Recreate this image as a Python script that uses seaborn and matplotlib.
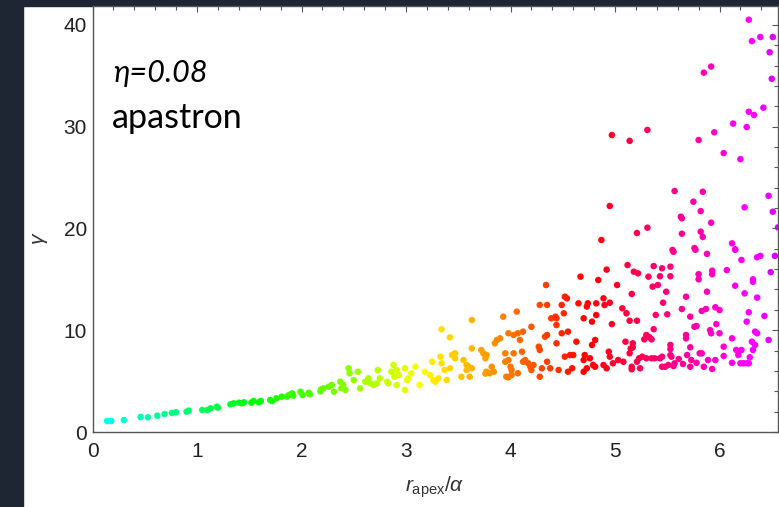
import numpy as np
import pandas as pd
import matplotlib
matplotlib.use("Agg")
import matplotlib.pyplot as plt
import seaborn as sns
from matplotlib.colors import ListedColormap, hsv_to_rgb
from matplotlib.patches import Rectangle
from matplotlib.ticker import MultipleLocator

# ---- data ----
r_apex = [
    0.14, 0.18, 0.30, 0.46, 0.53, 0.62, 0.69, 0.76, 0.80, 0.90, 0.92, 1.05, 1.10, 1.13, 1.19, 1.20,
    1.32, 1.35, 1.40, 1.43, 1.45, 1.52, 1.54, 1.59, 1.61, 1.70, 1.72, 1.76, 1.81, 1.86, 1.88, 1.91,
    1.92, 1.99, 2.01, 2.07, 2.08, 2.18,
    2.19, 2.21, 2.26, 2.29, 2.31, 2.37, 2.38, 2.40, 2.42, 2.45, 2.46, 2.50, 2.54, 2.56, 2.61, 2.64,
    2.66, 2.69, 2.72, 2.73, 2.75, 2.82, 2.83, 2.86, 2.89, 2.91, 2.93, 2.91, 2.88, 2.99, 3.01, 3.02,
    3.05, 3.09, 2.99, 3.13, 3.18, 3.23, 3.25, 3.26, 3.28, 3.31, 3.33, 3.34, 3.37, 3.39, 3.42, 3.44,
    3.47, 3.47, 3.34, 3.42, 3.53, 3.55, 3.58, 3.60, 3.58, 3.61, 3.63, 3.63, 3.63,
    3.72, 3.74, 3.77, 3.76, 3.77, 3.80, 3.82, 3.84, 3.85, 3.87, 3.90, 3.93, 3.95, 3.95, 3.96, 3.98,
    3.98, 4.00, 4.01, 4.01, 4.03, 4.03, 4.06, 4.07, 4.09, 4.07, 4.11, 4.12, 4.12, 4.14, 4.17, 4.19,
    4.20, 4.20, 4.22, 4.27, 4.28, 4.28, 4.30, 4.33, 4.35, 4.34, 4.28, 4.35, 4.35, 4.38, 4.39, 4.43,
    4.44, 4.44, 4.44, 4.46, 4.49, 4.49, 4.51, 4.52, 4.54, 4.55, 4.52, 4.55, 4.57, 4.60, 4.59, 4.63,
    4.65, 4.67, 4.70, 4.70, 4.71, 4.73, 4.73, 4.74, 4.76, 4.78, 4.79, 4.78, 4.81, 4.82, 4.82, 4.81,
    4.84, 3.76, 3.98, 4.70,
    5.56, 5.77, 5.88, 6.15, 6.36, 6.39, 6.53, 5.12, 5.18, 5.22, 5.32, 5.37, 5.45, 5.53, 5.43, 5.53,
    5.80, 5.80, 5.93, 5.93, 6.07, 6.21, 6.32, 6.32, 6.49, 5.02, 5.36, 5.41, 5.49, 5.16, 4.89, 4.90,
    4.95, 5.07, 5.11, 5.14, 5.21, 4.97, 5.46, 5.39, 5.50, 5.68, 5.88, 5.64, 5.72, 5.83, 5.87, 5.96,
    6.00, 6.15, 6.24, 6.36, 6.28, 6.26, 6.43, 5.76, 5.78, 5.97, 5.37, 5.91, 5.92, 6.00, 6.34, 6.36,
    5.30, 5.33, 5.35, 5.28, 5.68, 5.68, 6.12, 6.47, 5.10, 5.17, 5.17, 5.15, 5.53, 5.53, 5.72, 6.04,
    6.31, 6.34, 6.16, 6.21, 6.18, 4.94, 4.95, 4.89, 4.92, 4.98, 5.03, 5.08, 5.14, 5.16, 5.16, 5.21,
    5.23, 5.26, 5.24, 5.30, 5.35, 5.38, 5.43, 5.45, 5.45, 5.48, 5.51, 5.53, 5.54, 5.56, 5.57, 5.61,
    5.65, 5.69, 5.72, 5.73, 5.78, 5.81, 5.83, 5.85, 5.89, 5.93, 5.96, 6.04, 6.12, 6.20, 6.23, 6.26,
    6.28, 6.29, 6.32, 4.92,
    6.28, 6.39, 6.31, 6.51, 6.48, 5.92, 5.85, 6.50, 6.42, 6.28, 6.33, 5.31, 4.97, 5.14, 6.13, 6.26,
    5.95, 5.80, 6.04, 6.20, 5.57, 5.84, 5.75, 5.82, 5.63, 5.64, 6.47, 6.24, 6.51, 5.92, 4.95, 5.31,
    5.21, 4.87, 5.64, 5.82, 5.84, 6.12, 6.15, 5.76, 5.55, 6.56,
]
gamma = [
    1.08, 1.08, 1.18, 1.47, 1.44, 1.60, 1.77, 1.87, 1.94, 2.00, 2.10, 2.16, 2.16, 2.33, 2.49, 2.39,
    2.72, 2.82, 2.88, 2.82, 2.92, 2.88, 3.05, 2.92, 3.05, 3.14, 3.05, 3.31, 3.47, 3.47, 3.63, 3.80,
    3.57, 3.96, 3.63, 3.86, 3.70, 4.00,
    4.20, 4.29, 4.45, 4.62, 3.96, 4.94, 4.29, 4.62, 4.13, 6.26, 5.77, 5.11, 5.92, 4.29, 4.94, 5.27,
    4.78, 4.62, 4.78, 6.09, 5.27, 4.94, 4.78, 5.92, 5.43, 4.62, 5.60, 6.09, 6.58, 6.26, 5.11, 5.27,
    5.77, 6.41, 4.13, 4.62, 5.92, 5.60, 6.90, 5.11, 4.94, 5.27, 7.40, 6.75, 6.09, 5.11, 6.26, 7.56,
    7.73, 7.24, 10.09, 9.30, 5.43, 7.07, 6.58, 6.41, 6.09, 5.43, 8.22, 6.26, 11.00,
    8.06, 7.73, 7.56, 7.24, 5.92, 5.77, 6.41, 5.92, 8.71, 9.04, 9.20, 11.33, 7.73, 6.90, 5.43, 9.70,
    7.07, 6.41, 6.09, 5.60, 7.73, 9.53, 11.82, 9.70, 9.04, 5.77, 7.89, 9.86, 6.90, 7.07, 6.75, 6.41,
    10.34, 6.09, 6.58, 8.38, 8.06, 5.43, 6.26, 9.36, 9.53, 14.44, 12.48, 12.48, 6.90, 6.26, 11.17, 11.33,
    11.17, 10.51, 8.71, 6.09, 9.70, 12.48, 11.66, 13.29, 13.13, 9.86, 7.40, 5.92, 7.56, 7.56, 6.26, 8.87,
    12.64, 15.26, 11.17, 7.07, 7.56, 12.32, 6.26, 12.64, 7.24, 8.55, 6.58, 10.84, 9.04, 12.64, 11.49, 6.41,
    14.93, 5.73, 5.37, 5.92,
    17.70, 17.90, 17.50, 17.90, 17.16, 17.30, 17.30, 16.40, 15.75, 15.59, 15.26, 16.30, 16.08, 16.24, 15.30, 15.30,
    15.50, 15.00, 15.85, 15.50, 15.90, 16.90, 15.00, 14.76, 15.70, 14.44, 14.28, 14.44, 13.78, 13.56, 13.13, 12.48,
    12.70, 12.15, 11.66, 10.93, 10.93, 10.60, 12.70, 11.50, 11.56, 13.29, 13.78, 12.08, 11.33, 11.89, 12.08, 12.25,
    11.98, 14.37, 13.62, 13.20, 11.76, 10.84, 11.40, 10.34, 10.41, 10.60, 10.10, 10.00, 9.70, 9.70, 9.86, 9.70,
    9.53, 9.30, 9.10, 9.10, 9.53, 9.20, 9.20, 9.04, 8.87, 8.71, 8.32, 8.20, 8.55, 8.15, 8.32, 8.38,
    8.87, 8.55, 8.06, 8.06, 7.56, 7.89, 7.40, 6.58, 6.26, 6.75, 7.07, 6.90, 7.73, 6.41, 6.16, 6.90,
    7.24, 7.40, 6.26, 7.24, 7.24, 7.24, 7.24, 7.40, 6.41, 6.41, 6.58, 7.56, 7.40, 6.48, 6.75, 7.17,
    6.68, 7.56, 6.41, 7.07, 6.80, 7.73, 7.73, 6.41, 7.07, 6.19, 7.07, 7.47, 6.80, 6.75, 6.75, 6.75,
    6.75, 7.34, 8.06, 15.95,
    40.50, 38.80, 38.40, 38.80, 37.30, 35.90, 35.30, 34.70, 31.86, 31.46, 31.14, 29.67, 29.17, 28.60, 30.30, 29.96,
    29.44, 28.68, 27.40, 26.80, 23.67, 23.60, 22.62, 21.70, 21.15, 20.99, 23.20, 22.07, 21.64, 20.56, 22.20, 20.07,
    19.55, 18.86, 19.48, 19.68, 19.16, 18.53, 17.95, 18.07, 17.88, 20.10,
]
x_ticks = [0, 1, 2, 3, 4, 5, 6]
y_ticks = [0, 10, 20, 30, 40]
x_label = r"$r_{\mathrm{apex}}/\alpha$"
y_label = r"$\gamma$"
note_eta = "η=0.08"
note_phase = "apastron"

df = pd.DataFrame({"r": r_apex, "g": gamma})

# hue running cyan -> green -> yellow -> red -> magenta along x
xs = np.linspace(0, 6.6, 256)
hues = ((180 - 38 * xs) % 360) / 360
cmap = ListedColormap(hsv_to_rgb(np.stack([hues, np.ones_like(hues), np.ones_like(hues)], axis=1)))

sns.set_theme(style="white")
plt.rcParams["font.family"] = ["Liberation Sans", "DejaVu Sans"]
plt.rcParams["mathtext.fontset"] = "custom"
plt.rcParams["mathtext.rm"] = "Liberation Sans"
plt.rcParams["mathtext.it"] = "Liberation Sans:italic"

W, H = 779, 507
fig = plt.figure(figsize=(W / 100, H / 100), dpi=100)
fig.patch.set_facecolor("white")
dark = "#1f2633"
fig.patches.append(Rectangle((0, 0), 22.5 / W, 1, transform=fig.transFigure, color=dark, zorder=-5))
fig.patches.append(Rectangle((0, 1 - 5.5 / H), 1, 5.5 / H, transform=fig.transFigure, color=dark, zorder=-5))

left, right, top, bottom = 92.5, 777.5, 6.0, 432.0
ax = fig.add_axes([left / W, 1 - bottom / H, (right - left) / W, (bottom - top) / H])
ax.set_facecolor("white")

sns.scatterplot(data=df, x="r", y="g", hue="r", palette=cmap, hue_norm=(0, 6.6),
                s=22, linewidth=0, legend=False, ax=ax, zorder=3)

ax.set_xlim(0, (right - left) / 104.5)
ax.set_ylim(0, (bottom - top) / 10.18)
ax.set_xticks(x_ticks)
ax.set_yticks(y_ticks)
ax.xaxis.set_minor_locator(MultipleLocator(0.2))
ax.yaxis.set_minor_locator(MultipleLocator(2))
for s in ax.spines.values():
    s.set_visible(True)
    s.set_color("#555555")
    s.set_linewidth(1.0)
ax.tick_params(which="both", direction="in", top=True, right=True, color="#555555", width=0.8)
ax.tick_params(which="major", length=4.5, labelsize=15, labelcolor="#222222")
ax.tick_params(which="minor", length=2.8)
ax.tick_params(axis="x", which="major", pad=7)
ax.tick_params(axis="y", which="major", pad=4)

ax.set_xlabel(x_label, fontsize=15, color="#333333")
ax.set_ylabel(y_label, fontsize=15, color="#333333")
ax.xaxis.set_label_coords(0.5, (bottom - 474) / (bottom - top))
ax.yaxis.set_label_coords((40 - left) / (right - left), (bottom - 238) / (bottom - top))
ax.yaxis.label.set_va("center")

fig.text(113 / W, 1 - 82 / H, note_eta, fontsize=22, style="italic", family=["Lato", "DejaVu Sans"],
         va="baseline", ha="left", color="black")
fig.text(112 / W, 1 - 128 / H, note_phase, fontsize=24.5, family=["Lato", "DejaVu Sans"],
         va="baseline", ha="left", color="black")

fig.savefig("out.png", dpi=100, facecolor=fig.get_facecolor())
